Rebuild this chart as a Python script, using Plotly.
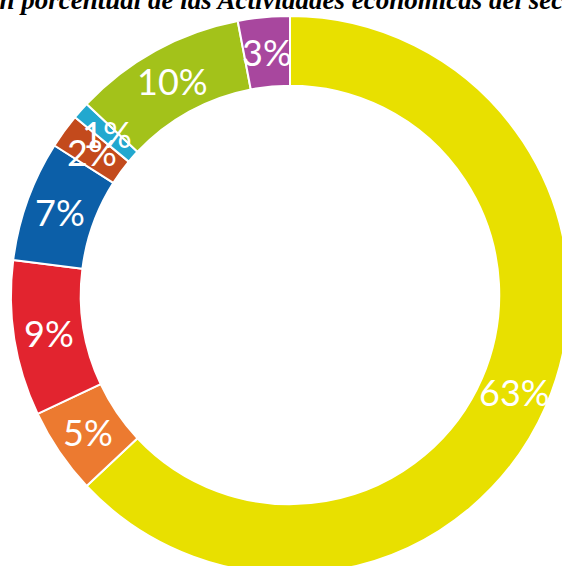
import math
import plotly.graph_objects as go

# ---- data ----
categories = ["Actividad A", "Actividad B", "Actividad C", "Actividad D",
              "Actividad E", "Actividad F", "Actividad G", "Actividad H"]
values = [63, 5, 9, 7, 2, 1, 10, 3]
labels = ["63%", "5%", "9%", "7%", "2%", "1%", "10%", "3%"]
colors = ["#E8E000", "#EC7A30", "#E2242F", "#0C5FA8",
          "#C34A1C", "#22A8CF", "#A3C21A", "#A8479E"]
title_text = "Distribución porcentual de las Actividades económicas del sector"

# ---- layout constants (pixels) ----
W, H = 700, 700
CX, CY, R = 290, 295, 279
HOLE = 0.75

fig = go.Figure()
fig.add_trace(go.Pie(
    labels=categories, values=values, sort=False, direction="clockwise",
    rotation=0, hole=HOLE, textinfo="none", hoverinfo="label+percent",
    marker=dict(colors=colors, line=dict(color="white", width=2)),
    domain=dict(x=[(CX - R) / W, (CX + R) / W],
                y=[1 - (CY + R) / H, 1 - (CY - R) / H]),
    showlegend=False,
))

# slice labels at mid-ring, derived from the data
total = sum(values)
cum = 0
r_mid = R * (1 + HOLE) / 2
annotations = []
for v, t in zip(values, labels):
    theta = 2 * math.pi * (cum + v / 2) / total
    cum += v
    px = CX + r_mid * math.sin(theta)
    py = CY - r_mid * math.cos(theta)
    annotations.append(dict(
        x=px / W, y=1 - py / H, xref="paper", yref="paper",
        text=t, showarrow=False, xanchor="center", yanchor="middle",
        font=dict(family="Lato", size=36, color="white"),
    ))

annotations.append(dict(
    x=-128 / W, y=1 - 0 / H, xref="paper", yref="paper",
    text="<b><i>" + title_text + "</i></b>", showarrow=False,
    xanchor="left", yanchor="middle",
    font=dict(family="Liberation Serif", size=27, color="black"),
))

fig.update_layout(
    width=W, height=H, margin=dict(l=0, r=0, t=0, b=0),
    paper_bgcolor="white", plot_bgcolor="white",
    annotations=annotations,
)

fig.write_html("out.html",
               post_script="document.body.style.margin='0';document.body.style.overflow='hidden';")
